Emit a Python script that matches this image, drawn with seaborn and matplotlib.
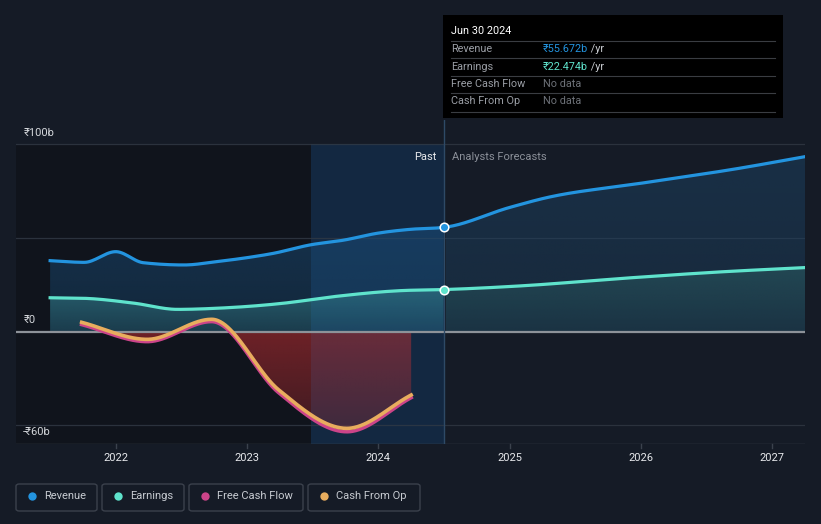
import numpy as np
import pandas as pd
import matplotlib
matplotlib.use("Agg")
import matplotlib.pyplot as plt
from matplotlib.patches import Rectangle, FancyBboxPatch, Polygon
from matplotlib.lines import Line2D
from matplotlib.colors import to_rgb
import seaborn as sns

# ---------------- data ----------------
rev_past_t = [2021.5, 2021.76, 2022.0, 2022.21, 2022.52, 2022.77, 2023.0, 2023.2, 2023.48, 2023.74, 2023.99, 2024.24, 2024.5]
rev_past_v = [37.9, 37.0, 42.7, 36.8, 35.6, 37.4, 39.5, 41.8, 46.3, 48.9, 52.5, 54.6, 55.672]
rev_fc_t = [2024.5, 2025.0, 2025.25, 2026.0, 2026.75, 2027.25]
rev_fc_v = [55.672, 66.3, 71.0, 79.2, 87.2, 93.4]

earn_past_t = [2021.5, 2021.76, 2022.14, 2022.47, 2022.77, 2023.28, 2023.66, 2024.17, 2024.5]
earn_past_v = [18.1, 17.8, 15.2, 11.9, 12.5, 15.2, 18.7, 21.9, 22.474]
earn_fc_t = [2024.5, 2025.1, 2025.87, 2026.63, 2027.25]
earn_fc_v = [22.474, 24.5, 28.5, 32.0, 34.2]

cash_t = [2021.74, 2022.24, 2022.73, 2023.24, 2023.76, 2024.25]
cfo_v = [5.0, -4.1, 6.6, -31.0, -51.6, -33.8]
fcf_v = [3.8, -5.3, 5.4, -32.5, -53.4, -35.2]

x_tick_years = [2022, 2023, 2024, 2025, 2026, 2027]
y_label_vals = [100, 0, -60]
y_label_txt = ["₹100b", "₹0", "-₹60b"]
legend_names = ["Revenue", "Earnings", "Free Cash Flow", "Cash From Op"]

tooltip_date = "Jun 30 2024"
tooltip_rows = [("Revenue", "₹55.672b", " /yr"), ("Earnings", "₹22.474b", " /yr"),
                ("Free Cash Flow", "No data", ""), ("Cash From Op", "No data", "")]

C_REV = "#2394df"
C_EARN = "#5fe3cc"
C_FCF = "#cc4489"
C_CFO = "#e8ad5e"
BG = "#151b26"

W, H = 821, 524


def monotone(x, y, n=400):
    x = np.asarray(x, float)
    y = np.asarray(y, float)
    h = np.diff(x)
    d = np.diff(y) / h
    m = np.zeros_like(y)
    m[0], m[-1] = d[0], d[-1]
    for k in range(1, len(x) - 1):
        s0, s1 = d[k - 1], d[k]
        p = (s0 * h[k] + s1 * h[k - 1]) / (h[k - 1] + h[k])
        m[k] = (np.sign(s0) + np.sign(s1)) * min(abs(s0), abs(s1), 0.5 * abs(p))
    xs = np.linspace(x[0], x[-1], n)
    idx = np.clip(np.searchsorted(x, xs, side="right") - 1, 0, len(x) - 2)
    t = (xs - x[idx]) / h[idx]
    h00 = 2 * t**3 - 3 * t**2 + 1
    h10 = t**3 - 2 * t**2 + t
    h01 = -2 * t**3 + 3 * t**2
    h11 = t**3 - t**2
    ys = h00 * y[idx] + h10 * h[idx] * m[idx] + h01 * y[idx + 1] + h11 * h[idx] * m[idx + 1]
    return xs, ys


def grad_fill(ax, xs, ys, color, a_far, a_zero, y_far, zorder=2):
    """fill between curve and 0 with a vertical alpha gradient"""
    verts = np.vstack([np.column_stack([xs, ys]), [[xs[-1], 0], [xs[0], 0]]])
    poly = Polygon(verts, closed=True, facecolor="none", edgecolor="none")
    ax.add_patch(poly)
    lo, hi = sorted([0, y_far])
    ny = 200
    yy = np.linspace(lo, hi, ny)
    frac = np.clip(yy / y_far, 0, 1)
    alpha = a_zero + (a_far - a_zero) * frac
    rgb = to_rgb(color)
    img = np.zeros((ny, 2, 4))
    img[:, :, 0], img[:, :, 1], img[:, :, 2] = rgb
    img[:, :, 3] = alpha[:, None]
    im = ax.imshow(img, extent=[xs.min(), xs.max(), lo, hi], origin="lower",
                   aspect="auto", zorder=zorder, interpolation="bilinear")
    im.set_clip_path(poly)


plt.rcParams["font.family"] = ["Roboto", "DejaVu Sans"]
fig = plt.figure(figsize=(W / 100, H / 100), dpi=100, facecolor=BG)

px_l, px_r = 16, 805
px_top, px_bot = 120, 444.1
ax = fig.add_axes([px_l / W, 1 - px_bot / H, (px_r - px_l) / W, (px_bot - px_top) / H])
ax.set_facecolor(BG)
x0, x1 = 2021.24, 2027.25
ymin = -60
ymax = (331.7 - px_top) / 1.874
for s in ax.spines.values():
    s.set_visible(False)
ax.set_yticks([])
ax.set_xticks([])

# past shading
ax.fill_between([x0, 2023.49], ymin, 100, color="#10141c", zorder=0, lw=0)
ax.fill_between([2023.49, 2024.5], ymin, 100, color="#12233a", zorder=0, lw=0)

for g in [100, 50, -50]:
    ax.axhline(g, color="#2b323d", lw=0.9, zorder=1)
ax.axhline(-60, color="#3b424d", lw=1.0, zorder=1)

rx, ry = monotone(rev_past_t + rev_fc_t[1:], rev_past_v + rev_fc_v[1:])
ex, ey = monotone(earn_past_t + earn_fc_t[1:], earn_past_v + earn_fc_v[1:])
cx, cy = monotone(cash_t, cfo_v)
fx, fy = monotone(cash_t, fcf_v)

past = rx <= 2024.5
grad_fill(ax, rx[past], ry[past], "#1a4f7c", 0.5, 0.32, 55)
grad_fill(ax, rx[~past], ry[~past], "#1d4466", 0.5, 0.35, 95)
ep = ex <= 2024.5
grad_fill(ax, ex[ep], ey[ep], "#3a8f95", 0.5, 0.2, 22, zorder=2.1)
grad_fill(ax, ex[~ep], ey[~ep], "#2f6a6c", 0.45, 0.15, 34, zorder=2.1)
grad_fill(ax, cx, cy, "#a82a2e", 0.3, 0.62, -55, zorder=2.2)

ax.fill_between([2023.49, 2024.5], ymin, 100, color="#2a6aa0", alpha=0.08, zorder=3, lw=0)

ax.axhline(0, color="#8d9299", lw=1.6, zorder=4)
ax.plot([2024.5, 2024.5], [ymin, ymax], color="#2e4a66", lw=1.0, zorder=4)

df_rev = pd.DataFrame({"t": rx, "v": ry})
df_earn = pd.DataFrame({"t": ex, "v": ey})
df_cfo = pd.DataFrame({"t": cx, "v": cy})
df_fcf = pd.DataFrame({"t": fx, "v": fy})
sns.lineplot(data=df_rev, x="t", y="v", ax=ax, color=C_REV, lw=2.3, zorder=6, sort=False)
sns.lineplot(data=df_earn, x="t", y="v", ax=ax, color=C_EARN, lw=2.3, zorder=6, sort=False)
sns.lineplot(data=df_fcf, x="t", y="v", ax=ax, color=C_FCF, lw=2.6, zorder=6, sort=False)
sns.lineplot(data=df_cfo, x="t", y="v", ax=ax, color=C_CFO, lw=2.6, zorder=7, sort=False)
ax.set_xlabel("")
ax.set_ylabel("")

ax.scatter([rev_past_t[-1]], [rev_past_v[-1]], s=38, color=C_REV, edgecolor="white", lw=1.1, zorder=9)
ax.scatter([earn_past_t[-1]], [earn_past_v[-1]], s=38, color=C_EARN, edgecolor="white", lw=1.1, zorder=9)

ax.set_xlim(x0, x1)
ax.set_ylim(ymin, ymax)

for yr in x_tick_years:
    ax.plot([yr, yr], [ymin, ymin - 2.2], color="#3b424d", lw=1, clip_on=False, zorder=5)
    ax.text(yr, ymin - 7.3, str(yr), ha="center", va="center", fontsize=8, color="#e6e8eb")

for v, t in zip(y_label_vals, y_label_txt):
    ax.text(2021.295, v + 3.6, t, ha="left", va="bottom", fontsize=8, color="#d4d7db", zorder=8)

ax.text(2024.44, 93.4, "Past", ha="right", va="center", fontsize=8, color="#e8eaed", zorder=8)
ax.text(2024.56, 93.4, "Analysts Forecasts", ha="left", va="center", fontsize=8, color="#8b9099", zorder=8)


def fx_(x):
    return x / W


def fy_(y):
    return 1 - y / H


fig.patches.append(Rectangle((fx_(443), fy_(118)), (783 - 443) / W, (118 - 15) / H,
                             transform=fig.transFigure, facecolor="#000000", edgecolor="none", zorder=10))
fig.text(fx_(451), fy_(31), tooltip_date, fontsize=7.8, color="white", va="center", ha="left", zorder=11)
for yy in [41, 58.3, 76, 93.3, 111.7]:
    fig.add_artist(Line2D([fx_(451), fx_(775)], [fy_(yy), fy_(yy)], color="#3a3d42", lw=0.8, zorder=11))
row_y = [49, 66.5, 84, 101.5]
val_col = [C_REV, C_EARN, "#6d7178", "#6d7178"]
for (lab, val, unit), yy, c in zip(tooltip_rows, row_y, val_col):
    fig.text(fx_(451), fy_(yy), lab, fontsize=7.8, color="#9a9ea5", va="center", ha="left", zorder=11)
    t = fig.text(fx_(543), fy_(yy), val, fontsize=7.8, color=c, va="center", ha="left", zorder=11)
    if unit:
        fig.canvas.draw()
        bb = t.get_window_extent()
        fig.text(bb.x1 / W, fy_(yy), unit, fontsize=7.8, color="#c9ccd1", va="center", ha="left", zorder=11)

boxes = [(16, 97), (102, 184), (189, 303), (308, 420)]
cols = [C_REV, C_EARN, C_FCF, C_CFO]
for (bx0, bx1), name, c in zip(boxes, legend_names, cols):
    fig.patches.append(FancyBboxPatch((fx_(bx0), fy_(511)), (bx1 - bx0) / W, (511 - 484) / H,
                                      boxstyle="round,pad=0,rounding_size=0.004",
                                      transform=fig.transFigure, facecolor=BG,
                                      edgecolor="#3b414c", lw=1.0, zorder=10))
    fig.add_artist(Line2D([fx_(bx0 + 16)], [fy_(496)], marker="o", markersize=6,
                          color=c, markeredgewidth=0, zorder=11))
    fig.text(fx_(bx0 + 28), fy_(496), name, fontsize=8, color="#c7cbd1", va="center", ha="left", zorder=11)

fig.savefig("out.png", dpi=100, facecolor=BG)
